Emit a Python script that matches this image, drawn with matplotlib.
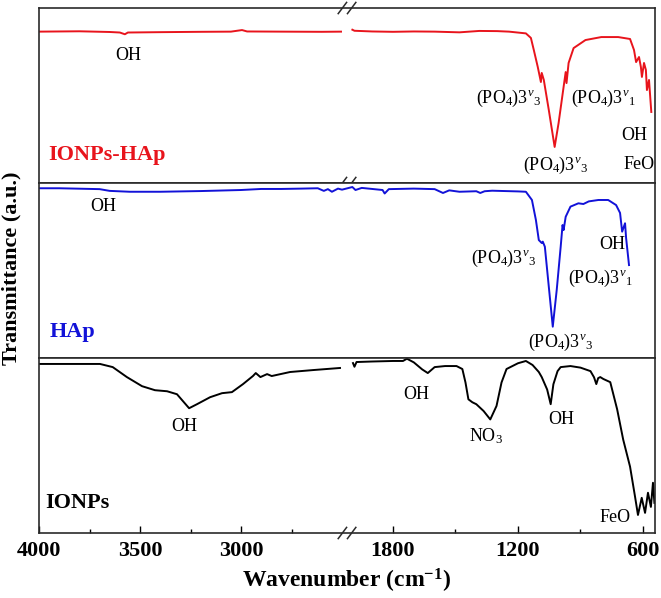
import numpy as np
import matplotlib
matplotlib.use('Agg')
import matplotlib.pyplot as plt

plt.rcParams['font.family'] = 'Liberation Serif'
plt.rcParams['mathtext.fontset'] = 'custom'
plt.rcParams['mathtext.rm'] = 'Liberation Serif'
plt.rcParams['mathtext.it'] = 'Liberation Serif:italic'
plt.rcParams['mathtext.bf'] = 'Liberation Serif:bold'

# IONPs-HAp (red), two segments either side of the axis break
hap_np_wn_a = [4000, 3800, 3650, 3600, 3575, 3560, 3400, 3200, 3050, 2995, 2970, 2800, 2600, 2505]
hap_np_t_a = [86.5, 86.7, 86.3, 86.0, 85.0, 86.0, 86.2, 86.4, 86.5, 87.4, 86.6, 86.5, 86.4, 86.5]
hap_np_wn_b = [1995, 1985, 1900, 1800, 1700, 1600, 1481, 1386, 1300, 1243, 1162, 1138, 1124, 1105,
               1090, 1086, 1076, 1052, 1024, 1005, 981, 971, 967, 957, 933, 876, 800, 719, 662,
               643, 633, 619, 610, 605, 595, 586, 581, 571, 560]
hap_np_t_b = [87.6, 87.0, 86.6, 86.4, 86.6, 86.5, 86.1, 86.9, 86.8, 86.5, 85.5, 82.9, 76.0, 66.3,
              57.7, 62.9, 58.9, 41.7, 20.6, 34.3, 54.9, 63.4, 57.1, 68.6, 77.1, 81.7, 83.4, 83.4, 82.3,
              76.0, 69.1, 72.0, 66.3, 60.6, 68.6, 64.6, 53.1, 58.9, 40.6]

# HAp (blue), drawn through the break
hap_wn = [4000, 3900, 3700, 3650, 3550, 3400, 3200, 3000, 2900, 2800, 2700, 2620, 2590, 2570,
          2550, 2520, 2500, 1995, 1980, 1950, 1900, 1850, 1840, 1820, 1700, 1600, 1560, 1530,
          1481, 1400, 1381, 1360, 1324, 1200, 1162, 1133, 1114, 1100, 1086, 1081, 1071, 1052,
          1033, 1014, 995, 986, 981, 971, 948, 910, 886, 860, 814, 767, 729, 710, 700, 686, 681, 667]
hap_t = [97.0, 97.0, 96.5, 95.5, 95.0, 95.0, 95.4, 96.0, 96.6, 96.6, 96.8, 97.0, 95.5, 96.5,
         95.0, 96.8, 96.2, 97.7, 96.0, 97.2, 96.6, 96.0, 94.0, 96.5, 96.8, 96.5, 94.3, 95.8,
         95.0, 95.3, 94.3, 95.3, 95.6, 95.2, 95.0, 90.3, 78.9, 67.4, 65.7, 66.5, 63.6, 40.7,
         17.9, 38.9, 63.6, 76.0, 73.1, 80.7, 86.5, 88.4, 88.0, 89.5, 90.3, 90.3, 87.4, 82.9,
         72.2, 77.0, 68.6, 53.1]

# IONPs (black)
np_wn_a = [4000, 3800, 3698, 3635, 3565, 3490, 3426, 3366, 3317, 3287, 3257, 3218, 3153, 3094,
           3045, 2990, 2941, 2927, 2904, 2871, 2848, 2757, 2644, 2510]
np_t_a = [96.6, 96.6, 96.6, 94.8, 89.1, 83.9, 81.6, 81.0, 79.3, 75.3, 71.3, 73.6, 77.6, 79.9,
          80.5, 85.1, 89.7, 91.4, 89.1, 90.8, 89.7, 92.0, 93.1, 94.3]
np_wn_b = [1992, 1985, 1975, 1900, 1800, 1752, 1733, 1700, 1660, 1633, 1600, 1550, 1495, 1467,
           1452, 1438, 1419, 1400, 1365, 1333, 1303, 1279, 1255, 1200, 1162, 1130, 1100, 1086,
           1060, 1043, 1030, 1010, 995, 948, 900, 852, 835, 824, 815, 805, 790, 757, 724, 695,
           662, 638, 624, 606, 590, 576, 562, 552, 545]
np_t_b = [97.1, 95.0, 97.7, 98.0, 98.3, 98.3, 99.6, 97.5, 93.5, 91.4, 94.8, 95.4, 95.4, 93.7,
          86.0, 76.4, 74.7, 73.6, 69.7, 64.9, 72.6, 86.0, 93.7, 97.0, 98.3, 96.0, 92.0, 89.1,
          82.0, 73.6, 85.0, 92.5, 94.8, 95.4, 94.5, 92.5, 89.0, 85.1, 88.5, 89.1, 88.0, 86.2,
          70.7, 53.4, 37.9, 20.7, 10.3, 20.1, 11.5, 23.0, 14.9, 28.7, 17.2]

major_ticks = [4000, 3500, 3000, 1800, 1200, 600]
minor_ticks = [3750, 3250, 2750, 1500, 900]

v3 = r'(PO$_4$)$3^{v}{}_{3}$'
v1 = r'(PO$_4$)$3^{v}{}_{1}$'


def forward(w):
    w = np.asarray(w, float)
    pos = np.where(w >= 2500, (4000 - w) * 0.202,
                   np.where(w > 2000, 303 + (2500 - w) / 500 * 9.3,
                            312.3 + (2000 - w) * 0.2083))
    return -pos


def inverse(p):
    pos = -np.asarray(p, float)
    return np.where(pos <= 303, 4000 - pos / 0.202,
                    np.where(pos <= 312.3, 2500 - (pos - 303) / 9.3 * 500,
                             2000 - (pos - 312.3) / 0.2083))


fig = plt.figure(figsize=(6.61, 5.98), dpi=100)
gs = fig.add_gridspec(3, 1, left=0.059, right=0.991, top=0.9866, bottom=0.1087, hspace=0)
ax1 = fig.add_subplot(gs[0])
ax2 = fig.add_subplot(gs[1], sharex=ax1)
ax3 = fig.add_subplot(gs[2], sharex=ax1)

red = '#e8141c'
blue = '#1212d8'

ax1.plot(hap_np_wn_a, hap_np_t_a, color=red, lw=1.4)
ax1.plot(hap_np_wn_b, hap_np_t_b, color=red, lw=1.4)
ax2.plot(hap_wn, hap_t, color=blue, lw=1.4)
ax3.plot(np_wn_a, np_t_a, color='black', lw=1.4)
ax3.plot(np_wn_b, np_t_b, color='black', lw=1.4)

for ax in (ax1, ax2, ax3):
    ax.set_xscale('function', functions=(forward, inverse))
    ax.set_ylim(0, 100)
    ax.set_yticks([])
    for s in ax.spines.values():
        s.set_linewidth(1.2)
        s.set_color('#2a2a2a')
ax1.set_xlim(4000, 542)

ax1.tick_params(axis='x', which='both', bottom=False, labelbottom=False)
ax2.tick_params(axis='x', which='both', bottom=False, labelbottom=False)
ax3.set_xticks(major_ticks)
ax3.set_xticklabels([str(t) for t in major_ticks])
ax3.set_xticks(minor_ticks, minor=True)
ax3.tick_params(axis='x', which='major', direction='in', length=5, width=1, pad=6,
                labelsize=16)
ax3.tick_params(axis='x', which='minor', direction='in', length=3, width=1)
for lab in ax3.get_xticklabels():
    lab.set_fontweight('bold')
ax3.set_xlabel(r'Wavenumber (cm$^{\mathbf{-1}}$)', fontsize=17, fontweight='bold', labelpad=4)
fig.text(0.018, 0.552, 'Transmittance (a.u.)', rotation=90, ha='center', va='center',
         fontsize=16, fontweight='bold')

# axis break marks
def brk(ax, y):
    for dx in (-0.0075, 0.0075):
        ax.plot([0.5 + dx - 0.0068, 0.5 + dx + 0.0068], [y - 0.032, y + 0.032],
                transform=ax.transAxes, color='#2a2a2a', lw=1.1, clip_on=False)

brk(ax1, 1)
brk(ax1, 0)
brk(ax3, 0)

fs = 13
ax1.text(3559, 72.6, 'OH', fontsize=fs, ha='center', va='center')
ax1.text(1243, 48.6, v3, fontsize=fs, ha='center', va='center')
ax1.text(792, 48.6, v1, fontsize=fs, ha='center', va='center')
ax1.text(643, 27.4, 'OH', fontsize=fs, ha='center', va='center')
ax1.text(1018, 10.3, v3, fontsize=fs, ha='center', va='center')
ax1.text(619, 10.3, 'FeO', fontsize=fs, ha='center', va='center')
ax1.text(3955, 16, 'IONPs-HAp', fontsize=16, fontweight='bold', color=red, ha='left', va='center')

ax2.text(3683, 86.3, 'OH', fontsize=fs, ha='center', va='center')
ax2.text(1267, 57.1, v3, fontsize=fs, ha='center', va='center')
ax2.text(749, 64.6, 'OH', fontsize=fs, ha='center', va='center')
ax2.text(806, 45.7, v1, fontsize=fs, ha='center', va='center')
ax2.text(994, 9.1, v3, fontsize=fs, ha='center', va='center')
ax2.text(3946, 14.9, 'HAp', fontsize=16, fontweight='bold', color=blue, ha='left', va='center')

ax3.text(3282, 60.6, 'OH', fontsize=fs, ha='center', va='center')
ax3.text(1690, 78.9, 'OH', fontsize=fs, ha='center', va='center')
ax3.text(1354, 55.4, r'NO$_3$', fontsize=fs, ha='center', va='center')
ax3.text(994, 64.6, 'OH', fontsize=fs, ha='center', va='center')
ax3.text(734, 8.6, 'FeO', fontsize=fs, ha='center', va='center')
ax3.text(3970, 17.1, 'IONPs', fontsize=16, fontweight='bold', color='black', ha='left', va='center')

fig.savefig('out.png', dpi=100)
